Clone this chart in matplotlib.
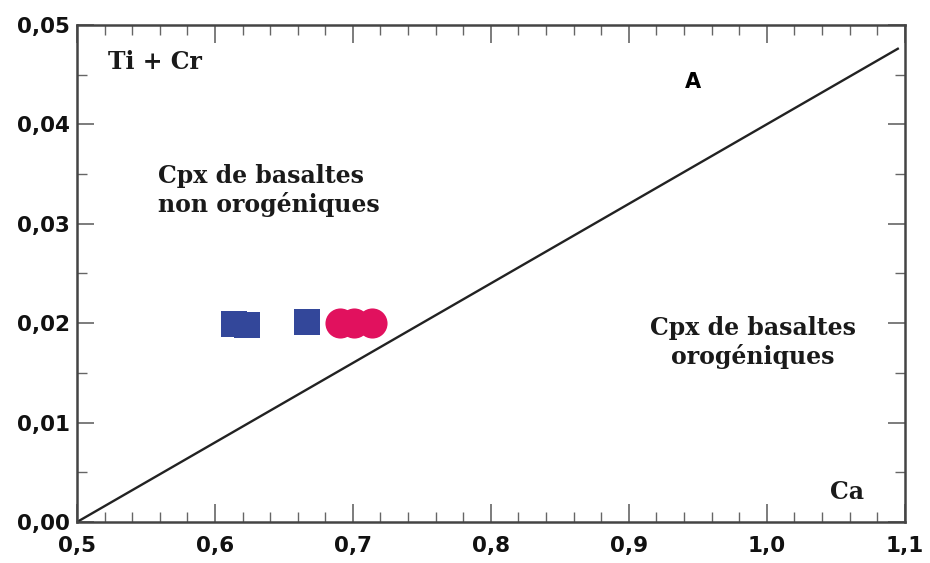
import matplotlib.pyplot as plt
from matplotlib.ticker import MultipleLocator, FuncFormatter

# Ca vs Ti + Cr in clinopyroxenes
ca_sq = [0.614, 0.623, 0.667]
tc_sq = [0.0199, 0.0198, 0.0201]
ca_ci = [0.691, 0.701, 0.714]
tc_ci = [0.0200, 0.0200, 0.0200]

# discriminant line
line_x = [0.5, 1.095]
line_y = [0.0, 0.0476]

xticks = [0.5, 0.6, 0.7, 0.8, 0.9, 1.0, 1.1]
yticks = [0.00, 0.01, 0.02, 0.03, 0.04, 0.05]

serif = "DejaVu Serif"

fig = plt.figure(figsize=(9.3, 5.63), dpi=100)
ax = fig.add_axes([0.0828, 0.0728, 0.890, 0.883])

ax.plot(line_x, line_y, color="#222222", lw=1.7)
ax.scatter(ca_sq, tc_sq, marker="s", s=330, color="#33479a", zorder=3, linewidths=0)
ax.scatter(ca_ci, tc_ci, marker="o", s=470, color="#e1115e", zorder=3, linewidths=0)

ax.set_xlim(0.5, 1.1)
ax.set_ylim(0.0, 0.05)
ax.set_xticks(xticks)
ax.set_yticks(yticks)
ax.xaxis.set_minor_locator(MultipleLocator(0.02))
ax.yaxis.set_minor_locator(MultipleLocator(0.005))
ax.xaxis.set_major_formatter(FuncFormatter(lambda v, p: f"{v:.1f}".replace(".", ",")))
ax.yaxis.set_major_formatter(FuncFormatter(lambda v, p: f"{v:.2f}".replace(".", ",")))

ax.tick_params(which="both", direction="in", top=True, right=True, colors="#666666",
               labelcolor="#111111")
ax.tick_params(which="major", length=13, width=1.2)
ax.tick_params(which="minor", length=7, width=1.0)
ax.tick_params(axis="y", which="major", length=12)
for lab in ax.get_xticklabels() + ax.get_yticklabels():
    lab.set_fontfamily("DejaVu Sans")
    lab.set_fontweight("bold")
    lab.set_fontsize(15.5)
ax.tick_params(axis="x", pad=10)
ax.tick_params(axis="y", pad=5)

for s in ax.spines.values():
    s.set_color("#444444")
    s.set_linewidth(1.8)

tfont = dict(family=serif, weight="bold", fontsize=17, color="#1a1a1a")
ax.text(0.5225, 0.0463, "Ti + Cr", ha="left", va="center", **tfont)
ax.text(0.5587, 0.0333, "Cpx de basaltes\nnon orogéniques", ha="left", va="center",
        linespacing=1.2, **tfont)
ax.text(0.990, 0.0181, "Cpx de basaltes\norogéniques", ha="center", va="center",
        linespacing=1.2, **tfont)
ax.text(1.058, 0.003, "Ca", ha="center", va="center", **tfont)
ax.text(0.9464, 0.0443, "A", ha="center", va="center", family="DejaVu Sans",
        weight="bold", fontsize=15)

fig.savefig("out.png", dpi=100)
